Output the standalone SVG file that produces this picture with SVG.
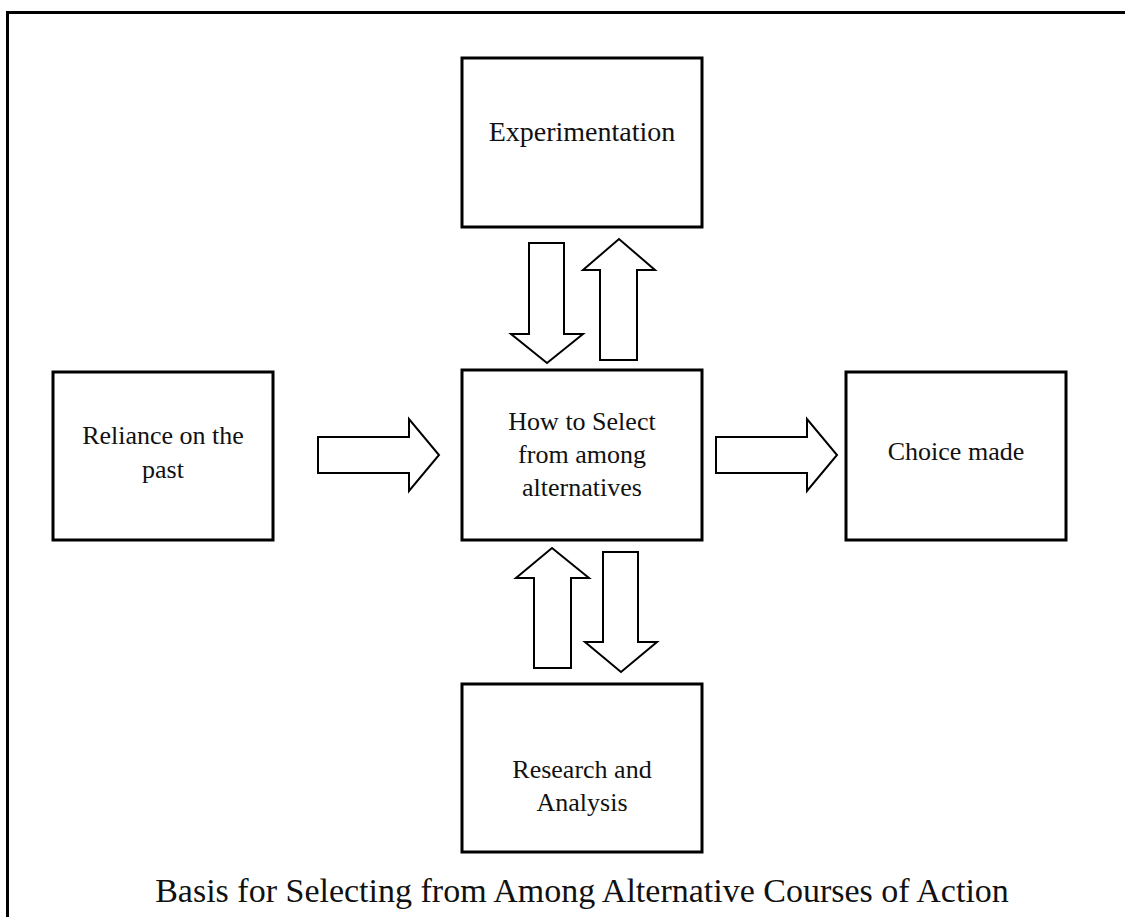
<svg xmlns="http://www.w3.org/2000/svg" width="1125" height="917" viewBox="0 0 1125 917">
<style>
.box{fill:#fff;stroke:#000;stroke-width:3}
.arr{fill:#fff;stroke:#000;stroke-width:2;stroke-linejoin:miter}
.t{font-family:"Liberation Serif",serif;font-size:26px;fill:#111;text-anchor:middle}
.cap{font-size:34px}
</style>
<rect x="0" y="0" width="1125" height="917" fill="#fff"/>
<rect id="frame" x="7.5" y="12.5" width="1130" height="920" fill="none" stroke="#000" stroke-width="3"/>
<g id="connectors">
<polygon class="arr" points="529,243 564,243 564,334 583,334 547,363 511,334 529,334"/>
<polygon class="arr" points="600,360 637,360 637,270 655,270 619,239 583,270 600,270"/>
<polygon class="arr" points="318,437 409,437 409,419 439,455 409,491 409,473 318,473"/>
<polygon class="arr" points="716,437 807,437 807,419 837,455 807,491 807,473 716,473"/>
<polygon class="arr" points="534,668 571,668 571,578 589,578 552,548 516,578 534,578"/>
<polygon class="arr" points="603,552 638,552 638,642 657,642 621,672 585,642 603,642"/>
</g>
<g id="experimentation">
<rect class="box" x="462" y="58" width="240" height="169"/>
<text class="t" x="582" y="141" style="font-size:28px">Experimentation</text>
</g>
<g id="center">
<rect class="box" x="462" y="370" width="240" height="170"/>
<text class="t" x="582" y="430">How to Select</text>
<text class="t" x="582" y="463">from among</text>
<text class="t" x="582" y="496">alternatives</text>
</g>
<g id="reliance">
<rect class="box" x="53" y="372" width="220" height="168"/>
<text class="t" x="163" y="444">Reliance on the</text>
<text class="t" x="163" y="478">past</text>
</g>
<g id="choice">
<rect class="box" x="846" y="372" width="220" height="168"/>
<text class="t" x="956" y="460">Choice made</text>
</g>
<g id="research">
<rect class="box" x="462" y="684" width="240" height="168"/>
<text class="t" x="582" y="778">Research and</text>
<text class="t" x="582" y="811">Analysis</text>
</g>
<text id="caption" class="t cap" x="582" y="902">Basis for Selecting from Among Alternative Courses of Action</text>
</svg>
